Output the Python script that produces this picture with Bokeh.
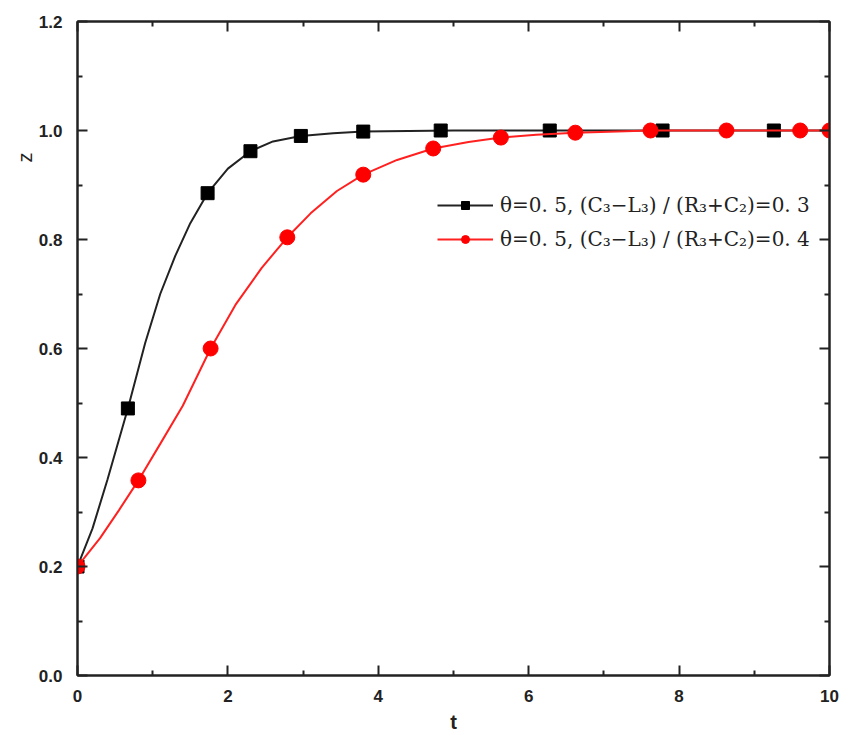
import math
from bokeh.plotting import figure
from bokeh.models import (LinearAxis, Range1d, Legend, LegendItem, Title, FixedTicker,
                          PrintfTickFormatter, CustomJSTickFormatter)
from bokeh.embed import file_html
from bokeh.resources import INLINE

# marker data
t_black = [0.0, 0.67, 1.73, 2.30, 2.97, 3.80, 4.83, 6.28, 7.78, 9.26]
z_black = [0.20, 0.49, 0.885, 0.962, 0.990, 0.998, 1.000, 1.000, 1.000, 1.000]
t_red = [0.0, 0.81, 1.77, 2.79, 3.80, 4.73, 5.63, 6.62, 7.62, 8.63, 9.61, 10.0]
z_red = [0.20, 0.358, 0.600, 0.804, 0.919, 0.967, 0.987, 0.996, 1.000, 1.000, 1.000, 1.000]

# smooth curves
t_black_line = [0.0, 0.2, 0.4, 0.67, 0.9, 1.1, 1.3, 1.5, 1.73, 2.0, 2.30, 2.6, 2.97, 3.4, 3.80, 4.4, 5.0, 6.0, 8.0, 10.0]
z_black_line = [0.20, 0.27, 0.36, 0.49, 0.61, 0.70, 0.77, 0.83, 0.885, 0.930, 0.962, 0.980, 0.990, 0.995, 0.998, 0.999, 1.0, 1.0, 1.0, 1.0]
t_red_line = [0.0, 0.3, 0.55, 0.81, 1.1, 1.4, 1.77, 2.1, 2.45, 2.79, 3.1, 3.45, 3.80, 4.25, 4.73, 5.2, 5.63, 6.1, 6.62, 7.62, 8.63, 10.0]
z_red_line = [0.20, 0.252, 0.303, 0.358, 0.425, 0.495, 0.600, 0.680, 0.748, 0.804, 0.848, 0.889, 0.919, 0.946, 0.967, 0.979, 0.987, 0.992, 0.996, 1.0, 1.0, 1.0]

x_ticks = [0, 2, 4, 6, 8, 10]
x_minor = [1, 3, 5, 7, 9]
y_ticks = [0.0, 0.2, 0.4, 0.6, 0.8, 1.0, 1.2]
y_minor = [0.1, 0.3, 0.5, 0.7, 0.9, 1.1]
label_black = "θ=0. 5, (C₃−L₃) / (R₃+C₂)=0. 3"
label_red = "θ=0. 5, (C₃−L₃) / (R₃+C₂)=0. 4"

p = figure(frame_width=752, frame_height=654, output_backend="svg", toolbar_location=None,
           x_range=Range1d(0, 10), y_range=Range1d(0, 1.2),
           min_border_left=77, min_border_right=14, min_border_top=21, min_border_bottom=10)
p.background_fill_color = "white"
p.border_fill_color = "white"
p.outline_line_color = "#222222"
p.outline_line_width = 2
p.xgrid.visible = False
p.ygrid.visible = False

def style_axis(ax, show_labels=True):
    ax.axis_line_color = "#222222"
    ax.axis_line_width = 2
    ax.major_tick_in = 10
    ax.major_tick_out = 0
    ax.minor_tick_in = 5
    ax.minor_tick_out = 0
    ax.major_tick_line_color = "#222222"
    ax.minor_tick_line_color = "#222222"
    ax.major_tick_line_width = 2
    ax.minor_tick_line_width = 2
    ax.major_label_text_font = "Liberation Sans"
    ax.major_label_text_font_size = "17px"
    ax.major_label_text_color = "#222222"
    ax.major_label_text_font_style = "bold"
    if not show_labels:
        ax.formatter = CustomJSTickFormatter(code="return ''")
        ax.major_label_standoff = 0

xax = p.xaxis[0]
xax.ticker = FixedTicker(ticks=x_ticks, minor_ticks=x_minor)
style_axis(xax)
xax.major_label_standoff = 14
xax.axis_label = "t"
xax.axis_label_text_font = "Liberation Sans"
xax.axis_label_text_font_size = "20px"
xax.axis_label_text_font_style = "bold"
xax.axis_label_text_color = "#222222"
xax.axis_label_standoff = 6

yax = p.yaxis[0]
yax.ticker = FixedTicker(ticks=y_ticks, minor_ticks=y_minor)
yax.formatter = PrintfTickFormatter(format="%.1f")
style_axis(yax)
yax.major_label_standoff = 15

top = LinearAxis(ticker=FixedTicker(ticks=x_ticks, minor_ticks=x_minor))
style_axis(top, False)
p.add_layout(top, "above")
right = LinearAxis(ticker=FixedTicker(ticks=y_ticks, minor_ticks=y_minor))
style_axis(right, False)
p.add_layout(right, "right")

lb = p.line(t_black_line, z_black_line, line_color="#222222", line_width=2)
mb = p.scatter(t_black, z_black, marker="square", size=13, fill_color="black", line_color="black")
lr = p.line(t_red_line, z_red_line, line_color="#ff2020", line_width=2)
mr = p.scatter(t_red, z_red, marker="circle", size=15, fill_color="#ff0000", line_color="#ff0000")

legend = Legend(items=[LegendItem(label=label_black, renderers=[lb, mb]),
                       LegendItem(label=label_red, renderers=[lr, mr])],
                location=(360, 424), border_line_color=None, background_fill_alpha=0,
                label_text_font="DejaVu Serif", label_text_font_size="20px",
                label_text_color="#222222", glyph_width=56, spacing=10, padding=4,
                label_standoff=7)
p.add_layout(legend, "center")

ztitle = Title(text="z", align="right", offset=131, text_font="Liberation Sans",
               text_font_size="20px", text_font_style="normal", text_color="#222222",
               standoff=0)
p.add_layout(ztitle, "left")

open("out.html", "w").write(file_html(p, INLINE))
